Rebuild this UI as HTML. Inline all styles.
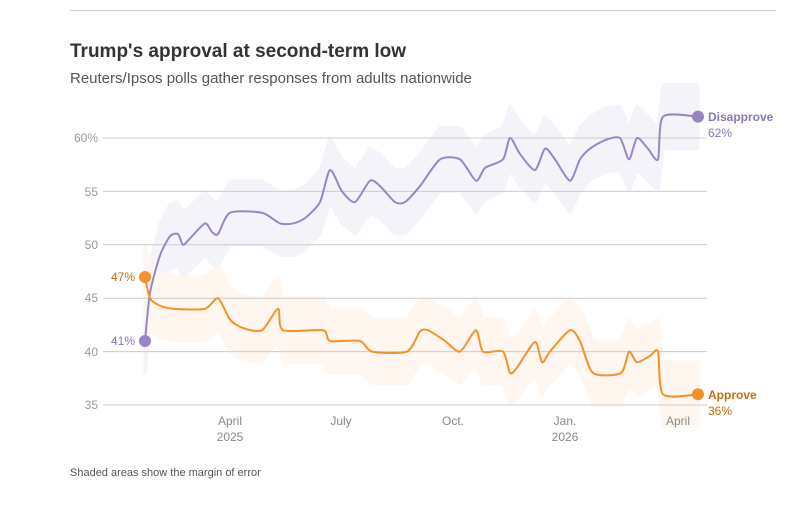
<!DOCTYPE html>
<html><head><meta charset="utf-8"><style>
body{margin:0;background:#fff;font-family:"Liberation Sans",sans-serif;}
svg text{font-family:"Liberation Sans",sans-serif;}
</style></head><body>
<svg id="s" width="802" height="500" xmlns="http://www.w3.org/2000/svg">
<line x1="70" y1="10.5" x2="776" y2="10.5" stroke="#ccc"/>
<text x="70" y="57" font-size="19" font-weight="bold" fill="#333">Trump's approval at second-term low</text>
<text x="70" y="83" font-size="15" fill="#555">Reuters/Ipsos polls gather responses from adults nationwide</text>
<g id="b"></g>
<g stroke="#ccc" stroke-width="1">
<line x1="103" x2="707" y1="138" y2="138"/><line x1="103" x2="707" y1="191.4" y2="191.4"/>
<line x1="103" x2="707" y1="244.8" y2="244.8"/><line x1="103" x2="707" y1="298.2" y2="298.2"/>
<line x1="103" x2="707" y1="351.6" y2="351.6"/><line x1="103" x2="707" y1="405" y2="405"/>
</g>
<g font-size="12" fill="#999" text-anchor="end">
<text x="98" y="142">60%</text><text x="98" y="196">55</text><text x="98" y="249">50</text>
<text x="98" y="302">45</text><text x="98" y="356">40</text><text x="98" y="409">35</text>
</g>
<g font-size="12" fill="#888" text-anchor="middle">
<text x="230" y="425">April</text><text x="230" y="441">2025</text>
<text x="341" y="425">July</text><text x="453" y="425">Oct.</text>
<text x="565" y="425">Jan.</text><text x="565" y="441">2026</text>
<text x="678" y="425">April</text>
</g>
<g id="g"></g>
<circle cx="145" cy="341" r="6" fill="#9a85c4"/>
<circle cx="145" cy="277" r="6" fill="#f5922b"/>
<circle cx="698" cy="116.6" r="6" fill="#9a85c4"/>
<circle cx="698" cy="394.3" r="6" fill="#f5922b"/>
<text x="135" y="345" font-size="12" fill="#8a76b8" text-anchor="end">41%</text>
<text x="135" y="281" font-size="12" fill="#c86a10" text-anchor="end">47%</text>
<text x="708" y="121" font-size="12" font-weight="bold" fill="#8a76b8">Disapprove</text>
<text x="708" y="137" font-size="12" fill="#8a76b8">62%</text>
<text x="708" y="399" font-size="12" font-weight="bold" fill="#c86a10">Approve</text>
<text x="708" y="415" font-size="12" fill="#c86a10">36%</text>
<text x="70" y="476" font-size="11" fill="#555">Shaded areas show the margin of error</text>
</svg>
<script>
function Y(v){return 138+(60-v)*10.68;}
var D=[[145,41],[150,45.5],[160,49],[170,50.8],[178,51],[183,50],[190,50.6],[205,52],[212,51.2],[218,51],[230,53],[262,53],[280,52],[293,52],[305,52.5],[320,54],[330,57],[342,55],[355,54],[370,56],[380,55.5],[395,54],[405,54],[420,55.5],[440,58],[460,58],[476,56],[485,57.2],[503,58],[510,60],[520,58.5],[535,57],[545,59],[555,58],[570,56],[580,58],[590,59],[605,59.8],[620,60],[629,58],[637,60],[648,59],[658,58],[663,62],[698,62]];
var A=[[145,47],[150,45],[160,44.3],[175,44],[205,44],[218,45],[230,43],[243,42.2],[262,42],[278,44],[283,42],[323,42],[330,41],[360,41],[372,40],[407,40],[420,41.9],[428,42],[445,41],[460,40],[476,42],[483,40],[503,40],[510,38],[517,38.5],[535,40.9],[542,39],[550,40],[570,42],[580,41],[593,38],[621,38],[629,40],[637,39],[650,39.6],[658,40],[663,36],[698,36]];
function path(p,t){var s="M"+p[0][0]+","+p[0][1];for(var i=0;i<p.length-1;i++){var a=p[i-1]||p[i],b=p[i],c=p[i+1],d=p[i+2]||c;s+=" C"+(b[0]+(c[0]-a[0])*t)+","+(b[1]+(c[1]-a[1])*t)+" "+(c[0]-(d[0]-b[0])*t)+","+(c[1]-(d[1]-b[1])*t)+" "+c[0]+","+c[1];}return s;}
function lin(p){return p.map(function(q){return q[0]+","+q[1]}).join(" L");}
function band(arr,m){var up=arr.map(function(q){return[q[0],Y(q[1]+m)]}),dn=arr.map(function(q){return[q[0],Y(q[1]-m)]}).reverse();return "M"+lin(up)+" L"+lin(dn)+"Z";}
var h="";
h+='<path d="'+band(D,3)+'" fill="#f5f3fa" stroke="#f5f3fa" stroke-width="3" stroke-linejoin="round"/>';
h+='<path d="'+band(A,3)+'" fill="#fef6ef" stroke="#fef6ef" stroke-width="3" stroke-linejoin="round"/>';
document.getElementById("b").innerHTML=h;
h='<path d="'+path(D.map(function(q){return[q[0],Y(q[1])]}),0.12)+'" fill="none" stroke="#9a85c4" stroke-width="2"/>';
h+='<path d="'+path(A.map(function(q){return[q[0],Y(q[1])]}),0.12)+'" fill="none" stroke="#f5922b" stroke-width="2"/>';
document.getElementById("g").innerHTML=h;
</script>
</body></html>
